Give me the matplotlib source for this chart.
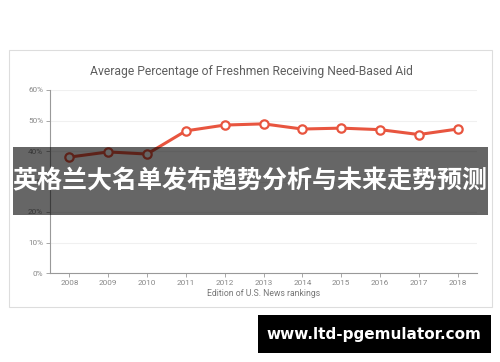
import matplotlib
matplotlib.use("Agg")
import matplotlib.pyplot as plt
from matplotlib.patches import Rectangle

plt.rcParams['font.family'] = ['Roboto', 'DejaVu Sans']

# data
years = [2008, 2009, 2010, 2011, 2012, 2013, 2014, 2015, 2016, 2017, 2018]
pct_need_aid = [38.0, 39.7, 39.0, 46.6, 48.5, 48.9, 47.2, 47.5, 47.0, 45.4, 47.2]
y_ticks = [0, 10, 20, 30, 40, 50, 60]
title = "Average Percentage of Freshmen Receiving Need-Based Aid"
x_label = "Edition of U.S. News rankings"
banner_text = "英格兰大名单发布趋势分析与未来走势预测"
site_text = "www.ltd-pgemulator.com"

W, H = 500, 362
fig = plt.figure(figsize=(W / 100, H / 100), dpi=100)
fig.patch.set_facecolor('white')


def px(x0, y0, x1, y1):
    # pixel box (top-left origin) -> figure fraction rect
    return [x0 / W, 1 - y1 / H, (x1 - x0) / W, (y1 - y0) / H]


# card frame
fig.patches.append(Rectangle((9 / W, 1 - 307 / H), 483 / W, 257 / H,
                             transform=fig.transFigure, facecolor='white',
                             edgecolor='#dddddd', linewidth=0.8, zorder=-2))

ax = fig.add_axes(px(50, 90, 477, 273))
ax.set_zorder(1)
ax.patch.set_alpha(0)
ax.plot(years, pct_need_aid, color='#e8553f', linewidth=2.2, marker='o',
        markersize=6, markerfacecolor='white', markeredgewidth=1.6,
        markeredgecolor='#e8553f', zorder=3)
ax.set_xlim(2007.5, 2018.5)
ax.set_ylim(0, 60)
ax.set_xticks(years)
ax.set_xticklabels([str(y) for y in years])
ax.set_yticks(y_ticks)
ax.set_yticklabels([f"{t}%" for t in y_ticks])
ax.grid(axis='y', color='#f0f0f0', linewidth=0.8)
ax.set_axisbelow(True)
for s in ['top', 'right']:
    ax.spines[s].set_visible(False)
for s in ['left', 'bottom']:
    ax.spines[s].set_color('#999999')
    ax.spines[s].set_linewidth(0.8)
ax.tick_params(axis='both', colors='#999999', labelcolor='#888888',
               labelsize=5.9, length=3, width=0.6, pad=2)
ax.set_xlabel(x_label, fontsize=6.2, color='#777777', labelpad=2)

fig.text(251 / W, 1 - 72 / H, title, ha='center', va='center',
         fontsize=8.7, color='#5e5e5e')

# overlay banner
fig.patches.append(Rectangle((13 / W, 1 - 215 / H), 475 / W, 68 / H,
                             transform=fig.transFigure, facecolor='black',
                             alpha=0.6, edgecolor='none', zorder=5))
fig.text(250 / W, 1 - 181 / H, banner_text, ha='center', va='center',
         fontsize=18, fontweight='bold', color='white', zorder=6,
         family=['Noto Sans CJK SC', 'DejaVu Sans'])

# site box
fig.patches.append(Rectangle((258 / W, 1 - 353 / H), 233 / W, 38 / H,
                             transform=fig.transFigure, facecolor='black',
                             edgecolor='none', zorder=5))
fig.text(374 / W, 1 - 334 / H, site_text, ha='center', va='center',
         fontsize=11, fontweight='bold', color='white', zorder=6,
         family=['DejaVu Sans'])

fig.savefig('out.png', dpi=100)
